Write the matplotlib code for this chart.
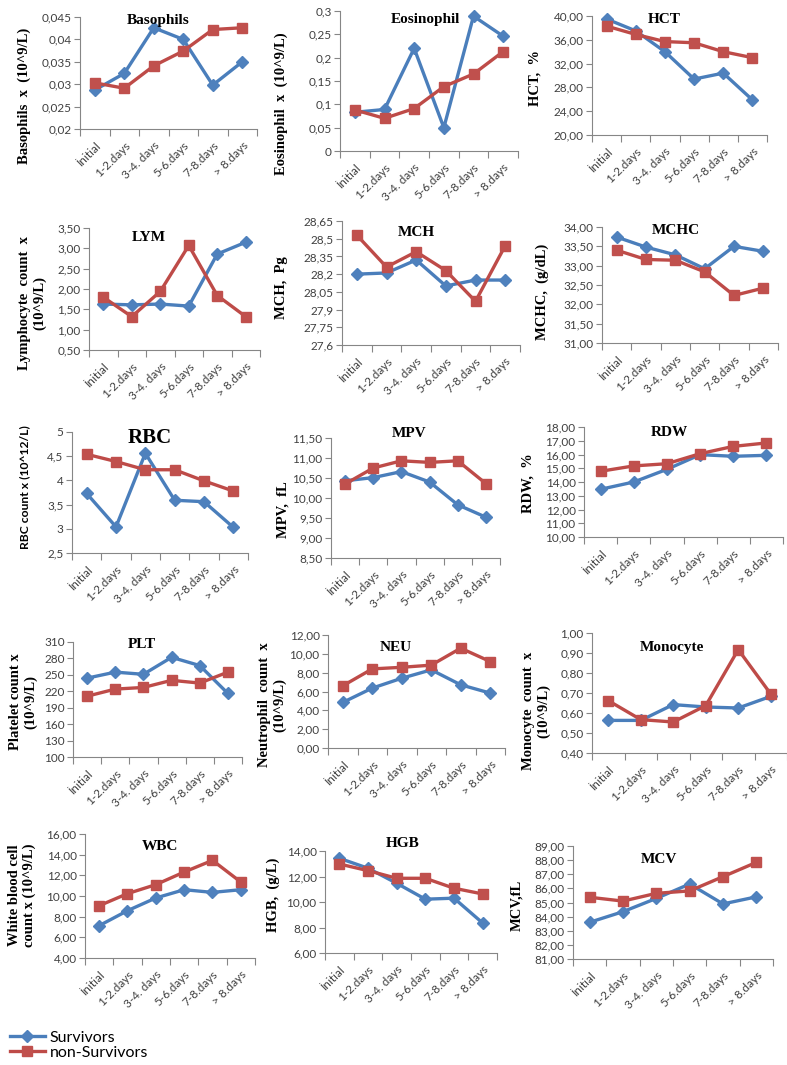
import matplotlib
matplotlib.use('Agg')
import matplotlib.pyplot as plt
import numpy as np
from matplotlib.ticker import FuncFormatter

plt.rcParams['font.family'] = ['Lato', 'DejaVu Sans']

categories = ['İnitial', '1-2.days', '3-4. days', '5-6.days', '7-8.days', '> 8.days']

basophils_surv = [0.0287, 0.0324, 0.0426, 0.0400, 0.0298, 0.0350]
basophils_non = [0.0303, 0.0291, 0.0341, 0.0374, 0.0422, 0.0426]
eosinophil_surv = [0.083, 0.089, 0.220, 0.050, 0.289, 0.246]
eosinophil_non = [0.088, 0.070, 0.091, 0.138, 0.165, 0.213]
hct_surv = [39.5, 37.5, 34.0, 29.4, 30.4, 25.9]
hct_non = [38.3, 36.9, 35.7, 35.5, 34.0, 33.0]
lym_surv = [1.63, 1.61, 1.63, 1.58, 2.86, 3.15]
lym_non = [1.80, 1.32, 1.94, 3.07, 1.84, 1.32]
mch_surv = [28.20, 28.21, 28.32, 28.10, 28.15, 28.15]
mch_non = [28.53, 28.26, 28.39, 28.23, 27.97, 28.44]
mchc_surv = [33.74, 33.48, 33.28, 32.92, 33.50, 33.37]
mchc_non = [33.40, 33.16, 33.14, 32.84, 32.23, 32.42]
rbc_surv = [3.73, 3.04, 4.56, 3.59, 3.56, 3.03]
rbc_non = [4.54, 4.39, 4.22, 4.22, 3.99, 3.78]
mpv_surv = [10.43, 10.51, 10.66, 10.40, 9.83, 9.52]
mpv_non = [10.35, 10.75, 10.93, 10.89, 10.93, 10.36]
rdw_surv = [13.47, 14.00, 14.92, 15.99, 15.87, 15.94]
rdw_non = [14.78, 15.17, 15.33, 16.06, 16.59, 16.84]
plt_surv = [244, 255, 251, 282, 267, 216]
plt_non = [211, 224, 227, 240, 235, 255]
neu_surv = [4.84, 6.36, 7.41, 8.30, 6.71, 5.83]
neu_non = [6.60, 8.40, 8.57, 8.80, 10.60, 9.18]
mono_surv = [0.563, 0.563, 0.642, 0.630, 0.625, 0.683]
mono_non = [0.662, 0.567, 0.555, 0.637, 0.917, 0.695]
wbc_surv = [7.13, 8.58, 9.81, 10.61, 10.35, 10.61]
wbc_non = [9.06, 10.23, 11.10, 12.32, 13.45, 11.35]
hgb_surv = [13.43, 12.65, 11.47, 10.22, 10.30, 8.35]
hgb_non = [12.98, 12.46, 11.86, 11.86, 11.08, 10.63]
mcv_surv = [83.60, 84.35, 85.29, 86.31, 84.90, 85.40]
mcv_non = [85.37, 85.10, 85.65, 85.82, 86.83, 87.84]

W, H = 787, 1065
BLUE_LINE, BLUE = '#4A7EBB', '#4F81BD'
RED_LINE, RED = '#BE4B48', '#C0504D'
GRID = '#868686'
SERIF = ['Liberation Serif', 'DejaVu Serif']
NARROW = ['Liberation Sans Narrow', 'Lato', 'DejaVu Sans']

fig = plt.figure(figsize=(W / 100, H / 100), dpi=100)


def fmt_general(v, pos):
    return ('%g' % round(v, 4)).replace('.', ',')


def fmt_fixed(v, pos):
    return ('%.2f' % v).replace('.', ',')


def fmt_int(v, pos):
    return '%d' % round(v)


# title, surv, non, (ymin, ymax, step), formatter, axes box px (l, t, r, b),
# title pos (axes frac), ylabel, ylabel px (x, y)
panels = [
    ('Basophils', basophils_surv, basophils_non, (0.02, 0.045, 0.005), fmt_general,
     (80, 17, 257, 129), (0.44, 0.97), 'Basophils  x  (10^9/L)', (24, 96)),
    ('Eosinophil', eosinophil_surv, eosinophil_non, (0, 0.3, 0.05), fmt_general,
     (340, 11, 518, 151), (0.48, 0.94), 'Eosinophil  x  (10^9/L)', (281, 104)),
    ('HCT', hct_surv, hct_non, (20, 40, 4), fmt_fixed,
     (592, 16, 767, 135), (0.41, 0.97), 'HCT,  %', (535, 78)),
    ('LYM', lym_surv, lym_non, (0.5, 3.5, 0.5), fmt_fixed,
     (89, 228, 260, 350), (0.35, 0.92), 'Lymphocyte  count  x\n(10^9/L)', (32, 303)),
    ('MCH', mch_surv, mch_non, (27.6, 28.65, 0.15), fmt_general,
     (342, 221, 520, 345), (0.42, 0.91), 'MCH,  Pg', (282, 288)),
    ('MCHC', mchc_surv, mchc_non, (31, 34, 0.5), fmt_fixed,
     (602, 227, 778, 343), (0.42, 0.97), 'MCHC,  (g/dL)', (542, 292)),
    ('RBC', rbc_surv, rbc_non, (2.5, 5, 0.5), fmt_general,
     (72, 432, 248, 553), (0.44, 0.95), 'RBC count x (10^12/L)', (25, 487)),
    ('MPV', mpv_surv, mpv_non, (8.5, 11.5, 0.5), fmt_fixed,
     (331, 438, 500, 558), (0.46, 1.04), 'MPV,  fL', (283, 510)),
    ('RDW', rdw_surv, rdw_non, (10, 18, 1), fmt_fixed,
     (584, 427, 783, 537), (0.43, 0.95), 'RDW,  %', (528, 483)),
    ('PLT', plt_surv, plt_non, (100, 310, 30), fmt_int,
     (73, 642, 242, 757), (0.41, 0.98), 'Platelet count x\n(10^9/L)', (23, 702)),
    ('NEU', neu_surv, neu_non, (0, 12, 2), fmt_fixed,
     (328, 635, 505, 748), (0.38, 0.89), 'Neutrophil  count  x\n(10^9/L)', (272, 705)),
    ('Monocyte', mono_surv, mono_non, (0.4, 1.0, 0.1), fmt_fixed,
     (592, 633, 787, 753), (0.41, 0.875), 'Monocyte  count  x\n(10^9/L)', (536, 711)),
    ('WBC', wbc_surv, wbc_non, (4, 16, 2), fmt_fixed,
     (85, 834, 255, 958), (0.44, 0.9), 'White blood cell\ncount x (10^9/L)', (22, 895)),
    ('HGB', hgb_surv, hgb_non, (6, 14, 2), fmt_fixed,
     (325, 851, 497, 953), (0.45, 1.07), 'HGB,  (g/L)', (273, 895)),
    ('MCV', mcv_surv, mcv_non, (81, 89, 1), fmt_fixed,
     (573, 846, 773, 959), (0.43, 0.88), 'MCV,fL', (517, 905)),
]

x = np.arange(len(categories))
handles = None
for (title, surv, non, (ymin, ymax, step), fmt, box, tpos, ylab, ypos) in panels:
    l, t, r, b = box
    ax = fig.add_axes([l / W, 1 - b / H, (r - l) / W, (b - t) / H])
    ax.patch.set_alpha(0)
    h1, = ax.plot(x, surv, color=BLUE_LINE, lw=2.4, marker='D', ms=6.5,
                  mfc=BLUE, mec=BLUE, label='Survivors', clip_on=False)
    h2, = ax.plot(x, non, color=RED_LINE, lw=2.4, marker='s', ms=7.5,
                  mfc=RED, mec=RED, label='non-Survivors', clip_on=False)
    handles = [h1, h2]
    ax.set_xlim(-0.5, len(categories) - 0.5)
    ax.set_ylim(ymin, ymax)
    ax.set_yticks(np.arange(ymin, ymax + step / 2, step))
    ax.yaxis.set_major_formatter(FuncFormatter(fmt))
    ax.set_xticks(x)
    ax.set_xticklabels(categories, rotation=45, ha='right', rotation_mode='anchor')
    ax.set_xticks(np.arange(-0.5, len(categories)), minor=True)
    ax.tick_params(axis='x', which='major', length=0, pad=8, labelsize=8.5,
                   labelcolor='#404040')
    ax.tick_params(axis='x', which='minor', length=5, color=GRID, width=0.8)
    ax.tick_params(axis='y', length=4, color=GRID, width=0.8, labelsize=8.5,
                   labelcolor='#404040', pad=2)
    for side in ('top', 'right'):
        ax.spines[side].set_visible(False)
    for side in ('left', 'bottom'):
        ax.spines[side].set_color(GRID)
        ax.spines[side].set_linewidth(0.8)

    if title == 'RBC':
        ax.text(tpos[0], tpos[1], title, transform=ax.transAxes, ha='center',
                va='center', fontsize=15, fontweight='bold', family=SERIF)
        fig.text(ypos[0] / W, 1 - ypos[1] / H, ylab, rotation=90, ha='center',
                 va='center', fontsize=8.7, fontweight='bold', family=NARROW)
    else:
        ax.text(tpos[0], tpos[1], title, transform=ax.transAxes, ha='center',
                va='center', fontsize=11, fontweight='bold', family=SERIF)
        fig.text(ypos[0] / W, 1 - ypos[1] / H, ylab, rotation=90, ha='center',
                 va='center', fontsize=10.5, fontweight='bold', family=SERIF,
                 multialignment='center', linespacing=1.2)

fig.legend(handles, ['Survivors', 'non-Survivors'], loc='upper left',
           bbox_to_anchor=(8 / W, 1 - 1029 / H), frameon=False, fontsize=11.5,
           handlelength=2.2, labelspacing=0.05, handletextpad=0.3,
           borderaxespad=0, borderpad=0.1)

fig.savefig('out.png', dpi=100)
